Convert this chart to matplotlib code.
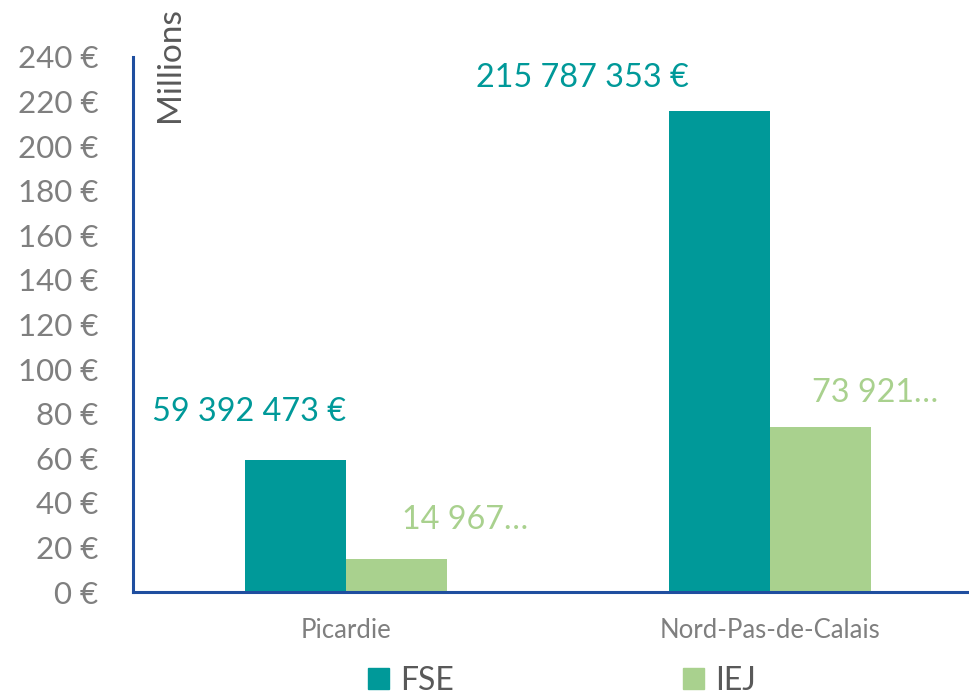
import matplotlib
matplotlib.use("Agg")
import matplotlib.pyplot as plt
from matplotlib.patches import Patch

plt.rcParams['font.family'] = ['Lato', 'DejaVu Sans']

categories = ["Picardie", "Nord-Pas-de-Calais"]
series_names = ["FSE", "IEJ"]
fse_values = [59.392473, 215.787353]   # millions €
iej_values = [14.967, 73.921]          # millions €
fse_labels = ["59 392 473 €", "215 787 353 €"]
iej_labels = ["14 967…", "73 921…"]
yticks = list(range(0, 241, 20))

c_fse = "#009999"
c_iej = "#A9D18E"
axis_col = "#1F4E9F"

W, H = 969, 697
fig = plt.figure(figsize=(W / 100, H / 100), dpi=100)
ax = fig.add_axes([133 / W, (H - 592) / H, (W - 133) / W, (592 - 57) / H])

x = list(range(len(categories)))
bw = 0.238
ax.bar([i - bw / 2 for i in x], fse_values, width=bw, color=c_fse, linewidth=0)
ax.bar([i + bw / 2 for i in x], iej_values, width=bw, color=c_iej, linewidth=0)

ax.set_xlim(-0.502, 1.469)
ax.set_ylim(0, 240)
ax.set_yticks(yticks)
ax.set_yticklabels([f"{v} €" for v in yticks], fontsize=22.5, color="#7F7F7F")
ax.set_xticks(x)
ax.set_xticklabels(categories, fontsize=18.5, color="#7F7F7F")
ax.tick_params(axis="both", length=0)
ax.tick_params(axis="y", pad=25)
ax.tick_params(axis="x", pad=19)

for s in ["top", "right"]:
    ax.spines[s].set_visible(False)
for s in ["left", "bottom"]:
    ax.spines[s].set_color(axis_col)
    ax.spines[s].set_linewidth(2.2)

# data labels (positions as displayed in the reference)
fse_lab_pos = [(-0.229, 80.7), (0.557, 230.5)]
iej_lab_pos = [(0.281, 32.3), (1.248, 89.2)]
for (px, py), t in zip(fse_lab_pos, fse_labels):
    ax.text(px, py, t, ha="center", va="center", fontsize=23.3, color=c_fse)
for (px, py), t in zip(iej_lab_pos, iej_labels):
    ax.text(px, py, t, ha="center", va="center", fontsize=23.3, color=c_iej)

fig.text(170 / W, 1 - 65 / H, "Millions", rotation=90, ha="center", va="center",
         fontsize=24, color="#595959")

handles = [Patch(color=c_fse), Patch(color=c_iej)]
fig.legend(handles, series_names, loc="center", bbox_to_anchor=(562 / W, 1 - 681 / H),
           ncol=2, frameon=False, fontsize=23, labelcolor="#595959",
           handlelength=0.65, handleheight=0.65, handletextpad=0.35, columnspacing=7.2,
           borderpad=0.1)

fig.savefig("out.png", dpi=100)
